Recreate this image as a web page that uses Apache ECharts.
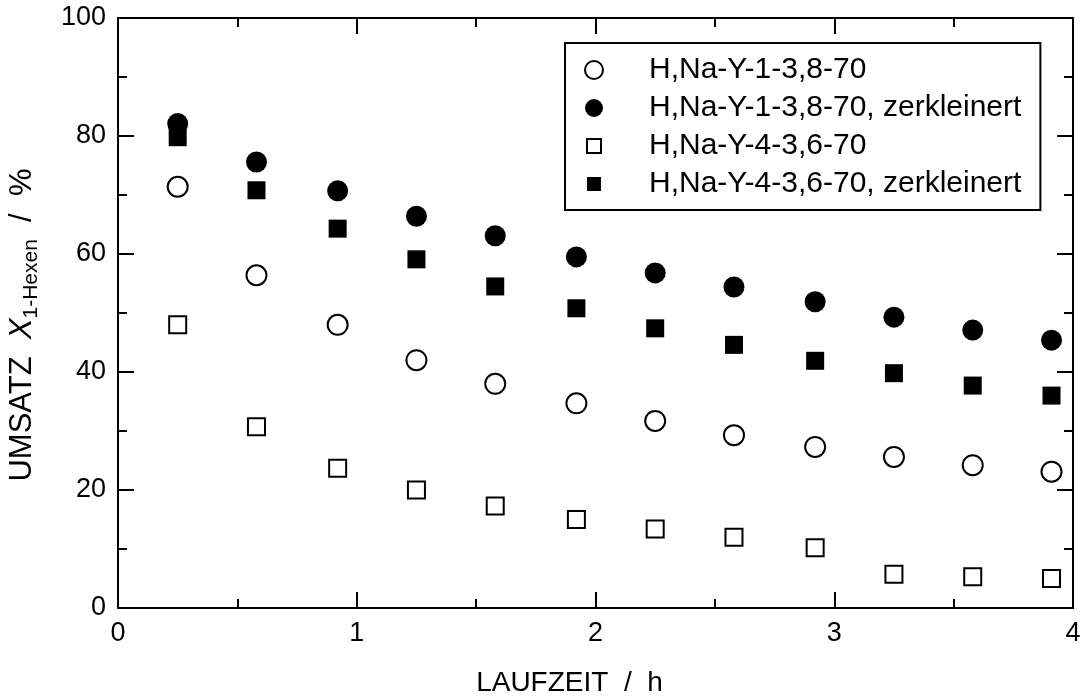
<!DOCTYPE html>
<html>
<head>
<meta charset="utf-8">
<script src="https://cdn.jsdelivr.net/npm/echarts@6/dist/echarts.min.js"></script>
<style>
  html, body { margin: 0; padding: 0; background: #fff; }
  #chart { width: 1085px; height: 700px; }
</style>
</head>
<body>
<div id="chart"></div>
<script>
// Laufzeit in h
var laufzeit = [0.25, 0.58, 0.92, 1.25, 1.58, 1.92, 2.25, 2.58, 2.92, 3.25, 3.58, 3.91]
// Umsatz in %
var y1 = [71.4, 56.4, 48.0, 42.0, 38.0, 34.7, 31.7, 29.3, 27.3, 25.6, 24.2, 23.1]
var y1z = [82.1, 75.6, 70.7, 66.4, 63.1, 59.5, 56.8, 54.4, 51.9, 49.3, 47.1, 45.4]
var y4 = [48.0, 30.7, 23.7, 20.0, 17.3, 15.0, 13.4, 12.0, 10.2, 5.7, 5.3, 5.0]
var y4z = [79.8, 70.8, 64.3, 59.1, 54.5, 50.8, 47.4, 44.6, 41.9, 39.8, 37.7, 36.0]
var seriesNames = [
  'H,Na-Y-1-3,8-70',
  'H,Na-Y-1-3,8-70, zerkleinert',
  'H,Na-Y-4-3,6-70',
  'H,Na-Y-4-3,6-70, zerkleinert'
]

var font = 'Liberation Sans, Arial, sans-serif'
var smallSquare = 'path://M0,0M18,18M2,2h14v14h-14z'

function pairs (ys) {
  return laufzeit.map(function (x, i) { return [x, ys[i]] })
}

function frameAxis (showLabel) {
  return {
    axisLine: { show: true, onZero: false, lineStyle: { color: '#000', width: 2 } },
    axisTick: { show: true, inside: true, length: 16, lineStyle: { color: '#000', width: 2 } },
    minorTick: { show: true, splitNumber: 2, length: 9, lineStyle: { color: '#000', width: 2 } },
    splitLine: { show: false },
    minorSplitLine: { show: false },
    axisLabel: { show: showLabel, color: '#000', fontFamily: font, fontSize: 27, margin: 12 }
  }
}

var chart = echarts.init(document.getElementById('chart'), null, { renderer: 'canvas' })

var xBottom = Object.assign(frameAxis(true), {
  type: 'value', min: 0, max: 4, interval: 1, position: 'bottom',
  name: 'LAUFZEIT  /  h', nameLocation: 'middle', nameGap: 61,
  nameTextStyle: { color: '#000', fontFamily: font, fontSize: 28, padding: [0, 52, 0, 0] }
})
var xTop = Object.assign(frameAxis(false), {
  type: 'value', min: 0, max: 4, interval: 1, position: 'top'
})
var yLeft = Object.assign(frameAxis(true), {
  type: 'value', min: 0, max: 100, interval: 20, position: 'left',
  name: '{t|UMSATZ  }{i|X}{s|1-Hexen}{t|  /  %}',
  nameLocation: 'middle', nameRotate: 90, nameGap: 76,
  nameTextStyle: {
    color: '#000', fontFamily: font, fontSize: 31, padding: [0, 24, 0, 0],
    rich: {
      t: { fontFamily: font, fontSize: 31, color: '#000' },
      i: { fontFamily: font, fontSize: 31, fontStyle: 'italic', color: '#000' },
      s: { fontFamily: font, fontSize: 21, color: '#000', padding: [18, 0, 0, 0] }
    }
  }
})
var yRight = Object.assign(frameAxis(false), {
  type: 'value', min: 0, max: 100, interval: 20, position: 'right'
})

chart.setOption({
  animation: false,
  backgroundColor: '#fff',
  grid: { left: 118, right: 12, top: 18, bottom: 92, containLabel: false, outerBoundsMode: 'none' },
  xAxis: [xBottom, xTop],
  yAxis: [yLeft, yRight],
  legend: {
    orient: 'vertical',
    left: 565,
    top: 43,
    padding: [12, 19, 11, 19],
    itemWidth: 18,
    itemHeight: 18,
    itemGap: 8,
    borderColor: '#000',
    borderWidth: 2,
    backgroundColor: '#fff',
    textStyle: { color: '#000', fontFamily: font, fontSize: 30, lineHeight: 27, padding: [0, 0, 0, 41] },
    data: [
      { name: seriesNames[0], icon: 'circle' },
      { name: seriesNames[1], icon: 'circle' },
      { name: seriesNames[2], icon: smallSquare },
      { name: seriesNames[3], icon: smallSquare }
    ]
  },
  series: [
    {
      name: seriesNames[0], type: 'scatter', symbol: 'circle', symbolSize: 20,
      itemStyle: { color: '#fff', borderColor: '#000', borderWidth: 2, opacity: 1 },
      data: pairs(y1)
    },
    {
      name: seriesNames[1], type: 'scatter', symbol: 'circle', symbolSize: 21,
      itemStyle: { color: '#000', borderColor: '#000', borderWidth: 0, opacity: 1 },
      data: pairs(y1z)
    },
    {
      name: seriesNames[2], type: 'scatter', symbol: 'rect', symbolSize: 17,
      itemStyle: { color: '#fff', borderColor: '#000', borderWidth: 2, opacity: 1 },
      data: pairs(y4)
    },
    {
      name: seriesNames[3], type: 'scatter', symbol: 'rect', symbolSize: 18,
      itemStyle: { color: '#000', borderColor: '#000', borderWidth: 0, opacity: 1 },
      data: pairs(y4z)
    }
  ]
})
</script>
</body>
</html>
